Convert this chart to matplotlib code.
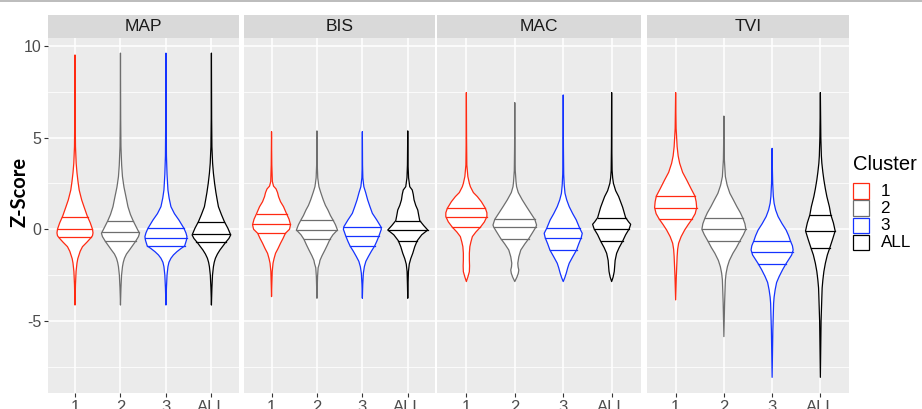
import numpy as np
import matplotlib.pyplot as plt
from matplotlib.patches import Rectangle
from matplotlib.lines import Line2D

panels = ["MAP", "BIS", "MAC", "TVI"]
clusters = ["1", "2", "3", "ALL"]
colors = ["#ff2a12", "#6e6e6e", "#1433ff", "#000000"]

# violin outlines: z-score knots (top to bottom) and half widths (category units)
map_y = [
    [9.5, 6.0, 4.5, 3.6, 3.07, 2.6, 2.14, 1.6, 1.2, 0.72, 0.35, 0.0, -0.2, -0.35, -0.46,
     -0.7, -0.95, -1.2, -1.4, -1.6, -1.84, -2.3, -3.0, -4.13],
    [9.6, 6.0, 4.5, 3.5, 2.87, 2.3, 1.7, 1.23, 0.8, 0.45, 0.1, -0.22, -0.4, -0.67, -0.9,
     -1.13, -1.35, -1.58, -1.8, -2.04, -2.5, -3.2, -4.13],
    [9.6, 6.0, 4.0, 3.0, 2.14, 1.7, 1.23, 0.85, 0.5, 0.25, 0.05, -0.2, -0.4, -0.6, -0.91,
     -1.05, -1.22, -1.4, -1.58, -1.8, -2.04, -2.5, -3.2, -4.13],
    [9.6, 6.0, 4.5, 3.6, 3.05, 2.5, 2.0, 1.6, 1.23, 0.8, 0.41, 0.05, -0.31, -0.5, -0.73,
     -0.95, -1.13, -1.35, -1.58, -1.8, -2.04, -2.5, -3.2, -4.13],
]
map_w = [
    [0, .005, .011, .026, .044, .066, .092, .147, .202, .27, .336, .385, .396, .385, .352,
     .264, .165, .114, .088, .062, .044, .024, .011, 0],
    [0, .005, .011, .026, .044, .077, .127, .165, .22, .281, .352, .418, .396, .33, .264,
     .198, .132, .088, .062, .044, .024, .011, 0],
    [0, .005, .011, .024, .044, .07, .11, .187, .286, .347, .396, .44, .462, .45, .411,
     .33, .242, .165, .11, .066, .044, .024, .011, 0],
    [0, .005, .011, .026, .044, .07, .099, .127, .154, .22, .286, .363, .424, .385, .308,
     .242, .187, .132, .088, .062, .044, .024, .011, 0],
]
map_q = [[0.69, 0.03, -0.44], [0.45, -0.16, -0.62], [0.05, -0.47, -0.91], [0.41, -0.26, -0.67]]

bis_y = [
    [5.32, 3.5, 2.6, 2.35, 2.2, 2.0, 1.78, 1.5, 1.23, 0.85, 0.55, 0.25, 0.0, -0.22, -0.5,
     -0.76, -1.05, -1.31, -1.6, -1.85, -2.3, -3.0, -3.67],
    [5.36, 3.5, 2.8, 2.32, 2.0, 1.6, 1.3, 1.05, 0.75, 0.51, 0.25, -0.04, -0.3, -0.55, -0.85,
     -1.13, -1.45, -1.7, -1.85, -2.1, -2.6, -3.76],
    [5.32, 3.5, 2.8, 2.32, 2.0, 1.6, 1.25, 0.87, 0.5, 0.14, 0.0, -0.15, -0.35, -0.65, -0.91,
     -1.2, -1.49, -1.75, -2.04, -2.4, -3.0, -3.76],
    [5.36, 3.5, 2.8, 2.32, 2.14, 1.9, 1.6, 1.3, 1.05, 0.75, 0.47, 0.2, -0.04, -0.3, -0.62,
     -0.95, -1.31, -1.6, -1.9, -2.3, -3.0, -3.76],
]
bis_w = [
    [0, .007, .018, .044, .099, .132, .154, .198, .264, .33, .385, .418, .396, .305, .253,
     .198, .143, .088, .055, .033, .015, .007, 0],
    [0, .007, .018, .044, .084, .139, .187, .242, .297, .352, .407, .452, .352, .286, .231,
     .176, .11, .066, .055, .026, .013, 0],
    [0, .004, .011, .033, .073, .117, .165, .22, .319, .407, .418, .396, .368, .319, .271,
     .198, .132, .077, .044, .022, .009, 0],
    [0, .007, .018, .044, .099, .121, .139, .176, .22, .242, .264, .352, .44, .308, .209,
     .154, .11, .066, .033, .015, .007, 0],
]
bis_q = [[0.85, 0.27, -0.22], [0.51, -0.04, -0.55], [0.14, -0.35, -0.91], [0.47, -0.04, -0.62]]

mac_y = [
    [7.45, 5.0, 3.5, 2.87, 2.5, 2.32, 2.0, 1.78, 1.5, 1.14, 0.9, 0.69, 0.4, 0.11, -0.15,
     -0.4, -0.7, -0.95, -1.3, -1.67, -2.0, -2.31, -2.6, -2.85],
    [6.9, 4.5, 3.2, 2.6, 2.32, 2.0, 1.6, 1.25, 0.87, 0.54, 0.23, 0.11, -0.2, -0.51, -0.8,
     -1.13, -1.5, -1.85, -2.05, -2.22, -2.4, -2.6, -2.85],
    [7.32, 4.5, 3.0, 2.4, 1.96, 1.6, 1.23, 0.85, 0.51, 0.05, -0.22, -0.46, -0.8, -1.13, -1.5,
     -1.85, -2.1, -2.4, -2.65, -2.85],
    [7.45, 4.5, 3.2, 2.8, 2.5, 2.1, 1.78, 1.2, 0.63, 0.4, 0.27, 0.02, -0.3, -0.65, -1.0,
     -1.31, -1.7, -2.04, -2.3, -2.6, -2.85],
]
mac_w = [
    [0, .004, .01, .031, .062, .083, .145, .227, .31, .393, .424, .424, .372, .289, .196,
     .124, .093, .072, .062, .062, .066, .062, .031, 0],
    [0, .004, .01, .025, .037, .072, .155, .238, .331, .413, .45, .434, .362, .289, .207,
     .124, .083, .062, .068, .083, .072, .045, 0],
    [0, .004, .01, .021, .037, .072, .124, .196, .269, .341, .393, .372, .32, .275, .196,
     .124, .093, .062, .031, 0],
    [0, .004, .01, .021, .037, .083, .145, .227, .289, .351, .393, .362, .289, .227, .155,
     .103, .072, .062, .054, .031, 0],
]
mac_q = [[1.14, 0.69, 0.11], [0.54, 0.11, -0.51], [0.05, -0.46, -1.13], [0.63, 0.02, -0.65]]

tvi_y = [
    [7.45, 5.5, 4.5, 4.0, 3.6, 3.1, 2.69, 2.2, 1.81, 1.5, 1.18, 0.85, 0.56, 0.25, -0.04,
     -0.4, -0.76, -1.1, -1.49, -2.5, -3.85],
    [6.17, 4.5, 3.8, 2.87, 2.4, 1.96, 1.6, 1.23, 0.9, 0.6, 0.3, 0.0, -0.3, -0.64, -1.0,
     -1.31, -1.7, -2.04, -2.4, -2.76, -4.0, -5.85],
    [4.41, 3.2, 2.5, 1.8, 1.42, 1.05, 0.69, 0.3, -0.04, -0.35, -0.64, -0.9, -1.13, -1.4,
     -1.87, -2.2, -2.58, -2.9, -3.31, -3.7, -4.03, -5.5, -8.07],
    [7.45, 5.0, 4.0, 3.6, 3.1, 2.69, 2.2, 1.78, 1.23, 0.78, 0.35, -0.09, -0.5, -1.0, -1.4,
     -1.85, -2.3, -2.76, -3.2, -3.67, -5.0, -8.07],
]
tvi_w = [
    [0, .01, .031, .052, .083, .145, .228, .322, .4, .425, .436, .405, .342, .259, .187,
     .114, .062, .041, .031, .015, 0],
    [0, .006, .01, .031, .068, .124, .197, .27, .342, .394, .436, .456, .405, .332, .259,
     .187, .114, .073, .046, .031, .015, 0],
    [0, .006, .012, .025, .041, .073, .124, .207, .29, .342, .38, .421, .436, .405, .29,
     .218, .145, .093, .062, .041, .031, .015, 0],
    [0, .01, .021, .031, .052, .073, .104, .135, .187, .218, .27, .307, .259, .197, .145,
     .104, .073, .052, .037, .031, .015, 0],
]
tvi_q = [[1.81, 1.18, 0.56], [0.6, 0.0, -0.64], [-0.64, -1.22, -1.87], [0.78, -0.09, -1.0]]

all_y = [map_y, bis_y, mac_y, tvi_y]
all_w = [map_w, bis_w, mac_w, tvi_w]
all_q = [map_q, bis_q, mac_q, tvi_q]

W, H = 922, 409
fig = plt.figure(figsize=(W / 100, H / 100), dpi=100)
plt.rcParams["font.family"] = ["Liberation Sans", "DejaVu Sans"]

# panel pixel boxes (left, right), shared top/bottom
px_lr = [(47.7, 238.7), (244.3, 435.0), (437.3, 640.7), (646.7, 849.3)]
top, bot, strip_top = 37.7, 393.3, 15.0

fig.add_artist(Line2D([0, 1], [0.998, 0.998], color="#b0b0b0", lw=1.2))

for i, name in enumerate(panels):
    l, r = px_lr[i]
    ax = fig.add_axes([l / W, (H - bot) / H, (r - l) / W, (bot - top) / H])
    ax.set_facecolor("#ebebeb")
    for s in ax.spines.values():
        s.set_visible(False)
    ax.set_xlim(0.4, 4.6)
    ax.set_ylim(-8.94, 10.44)
    ax.set_yticks([-5, 0, 5, 10])
    ax.set_yticks([-7.5, -2.5, 2.5, 7.5], minor=True)
    ax.set_xticks(range(1, 5))
    ax.set_xticklabels(clusters)
    ax.grid(which="major", color="white", lw=1.1)
    ax.grid(which="minor", color="white", lw=0.55)
    ax.set_axisbelow(True)
    ax.tick_params(which="major", length=3, width=0.8, color="#333333",
                   labelcolor="#4d4d4d", labelsize=11.5, pad=1.5)
    ax.tick_params(axis="x", labelsize=12)
    ax.tick_params(which="minor", length=0)
    if i == 0:
        ax.set_yticklabels(["-5", "0", "5", "10"])
    else:
        ax.tick_params(axis="y", which="both", left=False, labelleft=False)

    for j in range(4):
        y = np.array(all_y[i][j])
        w = np.array(all_w[i][j])
        pos = j + 1
        ax.fill(np.r_[pos - w, (pos + w)[::-1]], np.r_[y, y[::-1]],
                facecolor="white", edgecolor=colors[j], lw=0.9, zorder=3,
                joinstyle="round")
        for q in all_q[i][j]:
            hw = np.interp(q, y[::-1], w[::-1])
            ax.plot([pos - hw, pos + hw], [q, q], color=colors[j], lw=0.9, zorder=4)

    sax = fig.add_axes([l / W, (H - top) / H, (r - l) / W, (top - strip_top) / H])
    sax.set_facecolor("#d9d9d9")
    sax.set_xticks([])
    sax.set_yticks([])
    for s in sax.spines.values():
        s.set_visible(False)
    sax.text(0.5, 0.48, name, ha="center", va="center", fontsize=12.5,
             color="#1a1a1a", transform=sax.transAxes)

fig.text(19.5 / W, 1 - 192 / H, "Z-Score", rotation=90, ha="center", va="center",
         fontsize=14.5, fontweight="bold", family=["Lato", "DejaVu Sans"])

# legend
lax = fig.add_axes([840 / W, (H - 260) / H, 82 / W, 110 / H])
lax.set_xlim(840, 922)
lax.set_ylim(260, 150)
lax.axis("off")
lax.text(852.7, 164, "Cluster", ha="left", va="center", fontsize=14.5, color="black")
for j, lab in enumerate(clusters):
    yk = 182.7 + j * 17.2
    lax.add_patch(Rectangle((853.2, yk + 0.5), 15.8, 15.5, facecolor="white",
                            edgecolor=colors[j], lw=0.9))
    lax.text(880.5, yk + 8.5, lab, ha="left", va="center", fontsize=12.3, color="black")

fig.savefig("out.png", dpi=100)
